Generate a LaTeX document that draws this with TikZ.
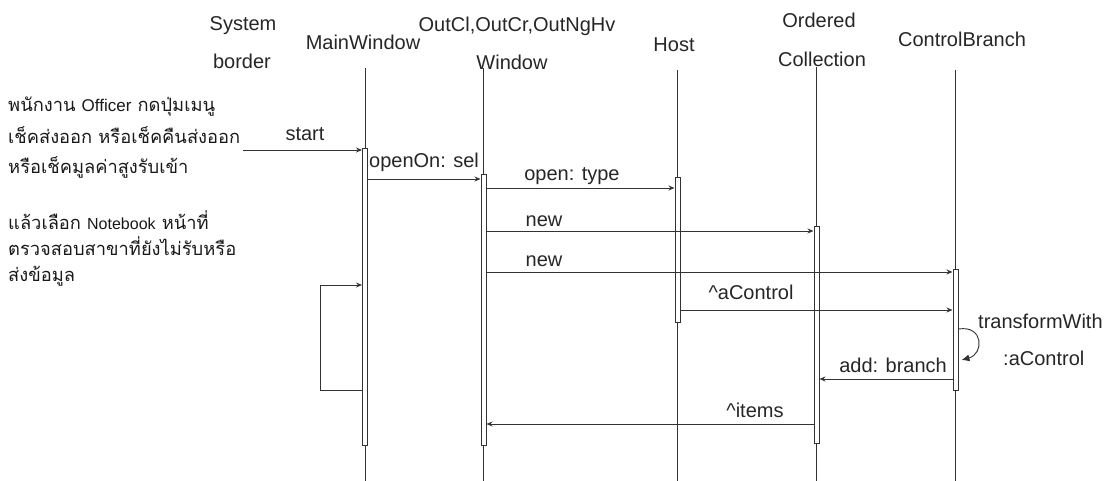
\documentclass[tikz,border=0pt]{standalone}
\usepackage{fontspec}
\setmainfont{Liberation Sans}
\newfontfamily\thaifont[Script=Thai]{Loma}
\newfontfamily\latsmall{Liberation Sans}
\usetikzlibrary{arrows.meta}
\begin{document}
\begin{tikzpicture}[x=1pt,y=-1pt,
  life/.style={draw=black!80, line width=0.9pt},
  actbar/.style={draw=black!80, line width=1pt, fill=white, minimum width=5pt, inner sep=0pt, rectangle},
  msg/.style={draw=black!80, line width=0.9pt, -{Stealth[length=6pt,width=5pt]}},
  selfmsg/.style={draw=black!80, line width=0.9pt, -{Latex[length=8pt,width=7pt]}},
  head/.style={font=\fontsize{20}{24}\selectfont, text=black!85, anchor=base, inner sep=0pt},
  lbl/.style={font=\fontsize{20}{24}\selectfont, text=black!85, anchor=base, inner sep=0pt},
  thai/.style={font=\thaifont\fontsize{18.3}{22}\selectfont, text=black!90, anchor=base west, inner sep=0pt}
]
\useasboundingbox (0,0) rectangle (1112,481);

% headers
\node[head] (hsys1) at (243,31) {System};
\node[head] (hsys2) at (242,69) {border};
\node[head] (hmw) at (363,50) {MainWindow};
\node[head] (hoc1) at (517,32) {OutCl,OutCr,OutNgHv};
\node[head] (hoc2) at (512,70) {Window};
\node[head] (hhost) at (674,52) {Host};
\node[head] (hord1) at (819,28) {Ordered};
\node[head] (hord2) at (822,67) {Collection};
\node[head] (hcb) at (962,47) {ControlBranch};

% lifelines
\coordinate (mwtop) at (365,68);   \coordinate (mwbot) at (365,481);
\coordinate (octop) at (483.5,68); \coordinate (ocbot) at (483.5,481);
\coordinate (hotop) at (677.5,70); \coordinate (hobot) at (677.5,481);
\coordinate (ortop) at (816.5,67); \coordinate (orbot) at (816.5,481);
\coordinate (cbtop) at (955.5,70); \coordinate (cbbot) at (955.5,481);
\draw[life] (mwtop) -- (mwbot);
\draw[life] (octop) -- (ocbot);
\draw[life] (hotop) -- (hobot);
\draw[life] (ortop) -- (orbot);
\draw[life] (cbtop) -- (cbbot);

% activation bars
\node[actbar, minimum height=296pt] (mwb) at (365,297) {};
\node[actbar, minimum height=270pt] (ocb) at (483.5,310) {};
\node[actbar, minimum height=145pt] (hob) at (677.5,250.5) {};
\node[actbar, minimum height=216pt] (orb) at (816.5,335) {};
\node[actbar, minimum height=120pt] (cbb) at (955.5,330) {};

% message rows
\coordinate (sysb) at (243,150);
\coordinate (r1) at (0,179);
\coordinate (r2) at (0,188);
\coordinate (r3) at (0,231);
\coordinate (r4) at (0,272);
\coordinate (r5) at (0,310);
\coordinate (r6) at (0,379);
\coordinate (r7) at (0,424);
\coordinate (lt) at (0,285);
\coordinate (lb) at (0,390);
\coordinate (loopL) at (320,390);
\coordinate (tw1) at (0,329);
\coordinate (tw2) at (0,360);

\draw[msg] (sysb) -- (mwb.west |- sysb);
\draw[msg] (mwb.east |- r1) -- (ocb.west |- r1);
\draw[msg] (ocb.east |- r2) -- (hob.west |- r2);
\draw[msg] (ocb.east |- r3) -- (orb.west |- r3);
\draw[msg] (ocb.east |- r4) -- (cbb.west |- r4);
\draw[msg] (hob.east |- r5) -- (cbb.west |- r5);
\draw[msg] (cbb.west |- r6) -- (orb.east |- r6);
\draw[msg] (orb.west |- r7) -- (ocb.east |- r7);
\draw[msg] (mwb.west |- lb) -- (loopL) |- (mwb.west |- lt);
\draw[selfmsg] (cbb.east |- tw1) .. controls (984,325) and (984,354) .. ([xshift=3pt]cbb.east |- tw2);

% message labels
\node[lbl] (lstart) at (305,141) {start};
\node[lbl, anchor=base west] (lopen) at (369,168) {openOn: sel};
\node[lbl] (ltype) at (572,181) {open: type};
\node[lbl] (lnew1) at (544,227) {new};
\node[lbl] (lnew2) at (544,267) {new};
\node[lbl] (lactl) at (751,300) {\^{}aControl};
\node[lbl, anchor=base east] (ladd) at (947,372) {add: branch};
\node[lbl] (litems) at (755,417) {\^{}items};
\node[lbl, anchor=base west] (ltw1) at (978,328) {transformWith};
\node[lbl, anchor=base west] (ltw2) at (1003,366) {:aControl};

% Thai notes
\node[thai] (t1) at (8,112) {พนักงาน {\latsmall\fontsize{17}{20}\selectfont Officer} กดปุ่มเมนู};
\node[thai] (t2) at (8,144) {เช็คส่งออก หรือเช็คคืนส่งออก};
\node[thai] (t3) at (8,174) {หรือเช็คมูลค่าสูงรับเข้า};
\node[thai] (t4) at (8,230) {แล้วเลือก {\latsmall\fontsize{16}{18}\selectfont Notebook} หน้าที่};
\node[thai] (t5) at (8,256) {ตรวจสอบสาขาที่ยังไม่รับหรือ};
\node[thai] (t6) at (8,282) {ส่งข้อมูล};
\end{tikzpicture}
\end{document}
